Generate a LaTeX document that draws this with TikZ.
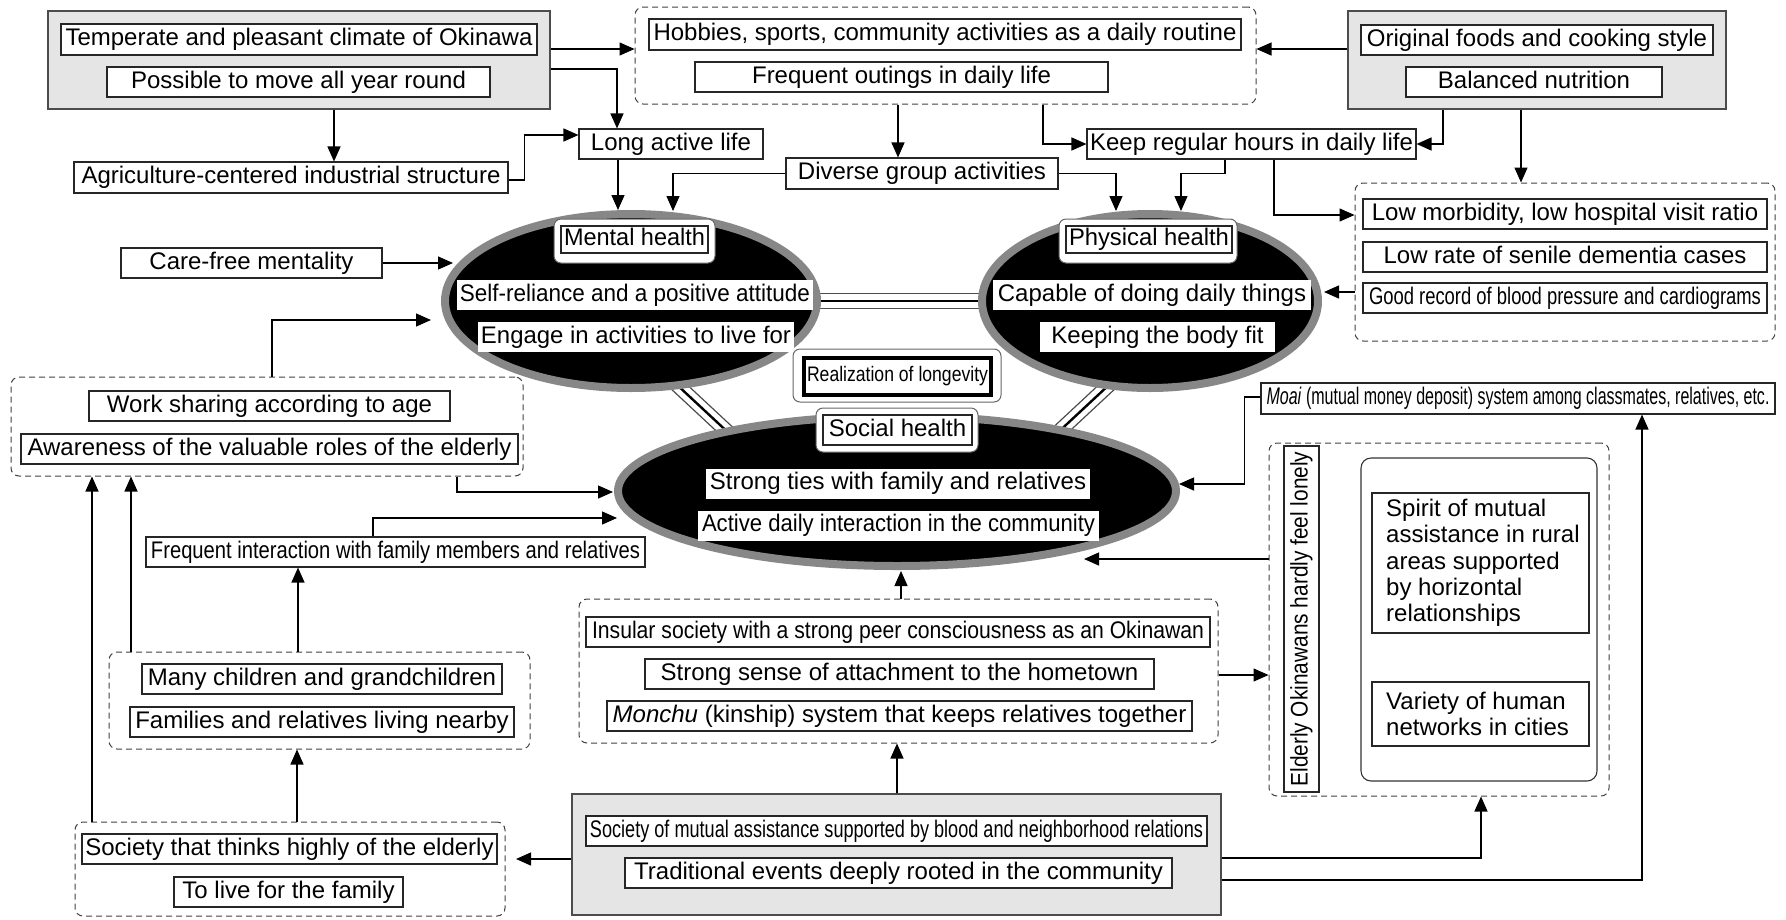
\documentclass[tikz,border=0pt]{standalone}
\usepackage{fontspec}
\setmainfont{Liberation Sans}
\usepackage{graphicx}
\usetikzlibrary{arrows.meta,shapes.geometric}
\pgfdeclarelayer{bg}
\pgfsetlayers{bg,main}
\newsavebox\fitbx
\newcommand\fitto[2]{\sbox\fitbx{#2}\ifdim\wd\fitbx>#1pt\relax\resizebox{#1pt}{\height}{\usebox\fitbx}\else\usebox\fitbx\fi}
\newcommand\cond[2]{\resizebox{#1pt}{\height}{#2}}
\begin{document}
\begin{tikzpicture}[x=1pt,y=-1pt,
  every node/.style={font=\fontsize{24}{26.3}\selectfont},
  tb/.style={draw=black!85, line width=1.1pt, fill=white, inner sep=0pt, minimum height=30pt, text height=17pt, text depth=5pt},
  wb/.style={fill=white, inner sep=0pt, minimum height=30pt, text height=17pt, text depth=5pt},
  gbox/.style={draw=black!70, fill=black!10, line width=1.2pt, inner sep=0pt},
  dbox/.style={draw=black!75, line width=1pt, dash pattern=on 6pt off 4pt, rounded corners=8pt, inner sep=0pt},
  hel/.style={ellipse, draw=black!47, fill=black, line width=8pt, inner sep=0pt},
  lbo/.style={draw=black!60, fill=white, rounded corners=7pt, line width=1pt, inner sep=0pt},
  arr/.style={-{Triangle[length=15pt,width=13pt]}, line width=1.3pt},
  tmid/.style={line width=2.4pt},
  tside/.style={line width=1.2pt, draw=black!70},
]
\useasboundingbox (0,0) rectangle (1786,919);

% ---------- containers ----------
\node[gbox, minimum width=502pt, minimum height=98pt] (g1) at (299,60) {};
\node[dbox, minimum width=621pt, minimum height=97pt] (d1) at (945.5,55.5) {};
\node[gbox, minimum width=378pt, minimum height=98pt] (g2) at (1537,60) {};
\node[dbox, minimum width=420pt, minimum height=158pt] (d3) at (1565,262) {};
\node[dbox, minimum width=512pt, minimum height=99pt] (d4) at (267,426.5) {};
\node[dbox, minimum width=421pt, minimum height=97pt] (d7) at (319.5,700.5) {};
\node[dbox, minimum width=430pt, minimum height=94pt] (d8) at (290,869) {};
\node[gbox, minimum width=649pt, minimum height=121pt] (g3) at (896.5,854.5) {};
\node[dbox, minimum width=639pt, minimum height=144pt] (d6) at (898.5,671) {};
\node[dbox, minimum width=340pt, minimum height=353pt] (d5) at (1439,619.5) {};

% ---------- ellipses ----------
\node[hel, minimum width=372pt, minimum height=174pt] (mental) at (631,301) {};
\node[hel, minimum width=336pt, minimum height=174pt] (physical) at (1150,301) {};
\node[hel, minimum width=558pt, minimum height=150pt] (social) at (897,491) {};

% triple links behind the ellipses
\coordinate (ms1) at (660,369); \coordinate (ms2) at (748,451);
\coordinate (ps1) at (1126,369); \coordinate (ps2) at (1038,451);
\begin{pgfonlayer}{bg}
\draw[tmid] (mental.center) -- (physical.center);
\draw[tside] ([yshift=7.5pt]mental.center) -- ([yshift=7.5pt]physical.center);
\draw[tside] ([yshift=-7.5pt]mental.center) -- ([yshift=-7.5pt]physical.center);
\draw[tmid] (ms1) -- (ms2);
\draw[tside] ([shift={(4.8,-5.1)}]ms1) -- ([shift={(4.8,-5.1)}]ms2);
\draw[tside] ([shift={(-4.8,5.1)}]ms1) -- ([shift={(-4.8,5.1)}]ms2);
\draw[tmid] (ps1) -- (ps2);
\draw[tside] ([shift={(4.8,5.1)}]ps1) -- ([shift={(4.8,5.1)}]ps2);
\draw[tside] ([shift={(-4.8,-5.1)}]ps1) -- ([shift={(-4.8,-5.1)}]ps2);
\end{pgfonlayer}

% ---------- top left ----------
\node[tb, minimum width=476pt, minimum height=31pt] (temp) at (299,39.5) {\fitto{468}{Temperate and pleasant climate of Okinawa}};
\node[tb, minimum width=383pt] (poss) at (298.5,82) {\fitto{375}{Possible to move all year round}};
\node[tb, minimum width=434pt, minimum height=31pt] (agri) at (291,177.5) {\fitto{426}{Agriculture-centered industrial structure}};
\node[tb, minimum width=184pt] (long) at (671,144) {\fitto{176}{Long active life}};

% ---------- top middle ----------
\node[tb, minimum width=592pt, minimum height=31pt] (hob) at (945,34.5) {\fitto{586}{Hobbies, sports, community activities as a daily routine}};
\node[tb, minimum width=413pt] (out) at (901.5,77) {\fitto{405}{Frequent outings in daily life}};
\node[tb, minimum width=272pt, minimum height=31pt] (div) at (922,173.5) {\fitto{264}{Diverse group activities}};
\node[tb, minimum width=329pt] (keep) at (1251.5,144) {\fitto{323}{Keep regular hours in daily life}};

% ---------- top right ----------
\node[tb, minimum width=352pt] (orig) at (1537,40) {\fitto{344}{Original foods and cooking style}};
\node[tb, minimum width=256pt] (bal) at (1534,82) {\fitto{248}{Balanced nutrition}};
\node[tb, minimum width=404pt] (lowm) at (1565,214) {\fitto{396}{Low morbidity, low hospital visit ratio}};
\node[tb, minimum width=404pt] (lowr) at (1565,257) {\fitto{396}{Low rate of senile dementia cases}};
\node[tb, minimum width=404pt] (good) at (1565,298) {\cond{392}{Good record of blood pressure and cardiograms}};

% ---------- mental ----------
\node[tb, minimum width=261pt] (care) at (251.5,263) {\fitto{253}{Care-free mentality}};
\node[lbo, minimum width=161pt, minimum height=44pt] (mlo) at (634.5,241) {};
\node[tb, minimum width=147pt, minimum height=27pt] (mlab) at (634.5,239.5) {\fitto{141}{Mental health}};
\node[wb, minimum width=356pt] (self) at (635,295) {\fitto{350}{Self-reliance and a positive attitude}};
\node[wb, minimum width=316pt] (eng) at (636,337) {\fitto{310}{Engage in activities to live for}};

% ---------- physical ----------
\node[lbo, minimum width=178pt, minimum height=44pt] (plo) at (1148,241) {};
\node[tb, minimum width=166pt, minimum height=27pt] (plab) at (1149,239.5) {\fitto{160}{Physical health}};
\node[wb, minimum width=318pt] (cap) at (1152,295) {\fitto{312}{Capable of doing daily things}};
\node[wb, minimum width=235pt] (fit) at (1157.5,337) {\fitto{229}{Keeping the body fit}};

% ---------- realization & social ----------
\node[lbo, minimum width=208pt, minimum height=53pt] (rlo) at (897,375.5) {};
\node[draw, line width=4pt, fill=white, inner sep=0pt, minimum width=187pt, minimum height=37pt, font=\fontsize{21}{24}\selectfont] (real) at (897.5,376.5) {\cond{181}{Realization of longevity}};
\node[lbo, minimum width=162pt, minimum height=44pt] (slo) at (897,430) {};
\node[tb, minimum width=149pt, minimum height=30pt] (slab) at (897.5,430) {\fitto{143}{Social health}};
\node[wb, minimum width=384pt] (ties) at (898,483.5) {\fitto{378}{Strong ties with family and relatives}};
\node[wb, minimum width=401pt] (act) at (898.5,525.5) {\fitto{393}{Active daily interaction in the community}};

% ---------- left ----------
\node[tb, minimum width=361pt] (work) at (269.5,406) {\fitto{353}{Work sharing according to age}};
\node[tb, minimum width=497pt] (aware) at (269.5,449) {\fitto{489}{Awareness of the valuable roles of the elderly}};
\node[tb, minimum width=499pt] (fi) at (395.5,552) {\cond{489}{Frequent interaction with family members and relatives}};
\node[tb, minimum width=360pt] (many) at (322,679) {\fitto{352}{Many children and grandchildren}};
\node[tb, minimum width=384pt] (fam) at (322,722) {\fitto{376}{Families and relatives living nearby}};
\node[tb, minimum width=415pt] (soc) at (289.5,849) {\fitto{409}{Society that thinks highly of the elderly}};
\node[tb, minimum width=229pt] (live) at (288.5,892) {\fitto{221}{To live for the family}};

% ---------- bottom middle ----------
\node[tb, minimum width=621pt] (mut) at (896.5,831) {\cond{613}{Society of mutual assistance supported by blood and neighborhood relations}};
\node[tb, minimum width=547pt] (trad) at (898.5,873) {\fitto{539}{Traditional events deeply rooted in the community}};
\node[tb, minimum width=624pt] (ins) at (898,632) {\cond{612}{Insular society with a strong peer consciousness as an Okinawan}};
\node[tb, minimum width=509pt] (sense) at (899.5,674) {\fitto{501}{Strong sense of attachment to the hometown}};
\node[tb, minimum width=585pt] (mon) at (899.5,716) {\fitto{577}{\textit{Monchu} (kinship) system that keeps relatives together}};

% ---------- right ----------
\node[tb, minimum width=514pt, minimum height=31pt] (moai) at (1518,398.5) {\cond{503}{\textit{Moai} (mutual money deposit) system among classmates, relatives, etc.}};
\node[tb, rotate=90, minimum width=346pt, minimum height=35pt] (eld) at (1301.5,619) {\cond{335}{Elderly Okinawans hardly feel lonely}};
\node[draw=black!80, line width=1.1pt, rounded corners=10pt, minimum width=236pt, minimum height=323pt, inner sep=0pt] (rb) at (1479,619.5) {};
\node[tb, minimum width=217pt, minimum height=140pt] (spirit) at (1480.5,563) {};
\node[anchor=west, align=left, inner sep=0pt] (spt) at (1386,563) {Spirit of mutual\\assistance in rural\\areas supported\\by horizontal\\relationships};
\node[tb, minimum width=217pt, minimum height=64pt] (var) at (1480.5,714) {};
\node[anchor=west, align=left, inner sep=0pt] (vart) at (1386,714) {Variety of human\\networks in cities};

% ---------- arrow end points at ellipses ----------
\coordinate (m1) at (618,210);
\coordinate (m2) at (673,211);
\coordinate (p1) at (1116,211);
\coordinate (p2) at (1181,211);
\coordinate (pr) at (1324,292);
\coordinate (ml1) at (453,263);
\coordinate (ml2) at (431,320);
\coordinate (sl1) at (613,492);
\coordinate (sl2) at (617,518);
\coordinate (sb) at (901,571);
\coordinate (sr1) at (1084,559);
\coordinate (sr2) at (1179,484);
\coordinate (d8e) at (516,859);

% ---------- connectors ----------
\draw[arr] (g1.east |- 0,49) -- (d1.west |- 0,49);
\draw[arr] (g1.east |- 0,69) -| (long.north -| 617,0);
\draw[arr] (g1.south -| 334,0) -- (agri.north -| 334,0);
\draw[arr] (agri.east |- 0,180) -- ++(16,0) |- (long.west |- 0,135);
\draw[arr] (long.south -| 618,0) -- (m1);
\draw[arr] (d1.south -| 898,0) -- (div.north -| 898,0);
\draw[arr] (d1.south -| 1043,0) |- (keep.west);
\draw[arr] (div.west) -| (m2);
\draw[arr] (div.east) -| (p1);
\draw[arr] (g2.west |- 0,49) -- (d1.east |- 0,49);
\draw[arr] (g2.south -| 1443,0) |- (keep.east);
\draw[arr] (g2.south -| 1521,0) -- (d3.north -| 1521,0);
\draw[arr] (keep.south -| 1225,0) -- ++(0,14) -| (p2);
\draw[arr] (keep.south -| 1274,0) |- (d3.west |- 0,215);
\draw[arr] (d3.west |- 0,292) -- (pr);
\draw[arr] (care.east) -- (ml1);
\draw[arr] (d4.north -| 272,0) |- (ml2);
\draw[arr] (d4.south -| 457,0) |- (sl1);
\draw[arr] (fi.north -| 373,0) |- (sl2);
\draw[arr] (d7.north -| 298,0) -- (fi.south -| 298,0);
\draw[arr] (d7.north -| 131,0) -- (d4.south -| 131,0);
\draw[arr] (d8.north -| 92,0) -- (d4.south -| 92,0);
\draw[arr] (d8.north -| 297,0) -- (d7.south -| 297,0);
\draw[arr] (g3.west |- 0,859) -- (d8e);
\draw[arr] (g3.north -| 897,0) -- (d6.south -| 897,0);
\draw[arr] (d6.north -| 901,0) -- (sb);
\draw[arr] (d6.east |- 0,675) -- (d5.west |- 0,675);
\draw[arr] (d5.west |- 0,559) -- (sr1);
\draw[arr] (moai.west |- 0,397) -- ++(-16,0) |- (sr2);
\draw[arr] (g3.east |- 0,858) -| (d5.south -| 1481,0);
\draw[arr] (g3.east |- 0,880) -| (moai.south -| 1642,0);
\end{tikzpicture}
\end{document}
